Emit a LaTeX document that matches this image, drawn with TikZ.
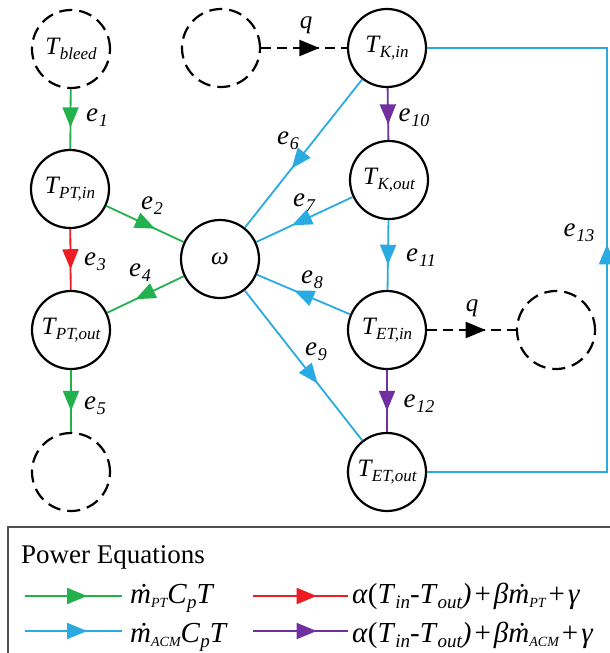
\documentclass[tikz,border=0pt]{standalone}
\usepackage{fontspec}
\setmainfont{Liberation Serif}
\usetikzlibrary{arrows.meta,decorations.markings}
\definecolor{cgreen}{HTML}{22B14C}
\definecolor{cblue}{HTML}{29AAE1}
\definecolor{cred}{HTML}{ED1C24}
\definecolor{cpurple}{HTML}{7030A0}
\definecolor{cbox}{HTML}{505050}
\newcommand\Tsub[1]{\textit{T}\kern-1pt\raisebox{-5pt}{\fontsize{17}{17}\selectfont\itshape #1}}
\newcommand\elab[1]{{\fontsize{27}{30}\selectfont\textit{e}}\kern1pt\raisebox{-5pt}{\fontsize{18}{18}\selectfont\itshape #1}}
\newcommand\lsub[1]{\raisebox{-5pt}{\fontsize{19}{19}\selectfont\itshape #1}}
\newcommand\ssub[1]{\raisebox{-4pt}{\fontsize{14}{14}\selectfont\itshape #1}}
\newcommand\mdot{{\itshape\ooalign{m\cr\hidewidth\kern3pt\char"02D9\hidewidth\cr}}}
\newcommand\pl{\kern3pt+\kern3pt}
\begin{document}
\begin{tikzpicture}[x=1pt,y=-1pt,
  font=\fontsize{25}{28}\selectfont,
  nd/.style={circle,draw,line width=2.2pt,minimum size=78pt,inner sep=0pt},
  dnd/.style={nd,dash pattern=on 13pt off 7pt},
  ed/.style={line width=1.8pt},
  dd/.style={line width=2pt,dash pattern=on 10pt off 6pt},
  midarr/.style={postaction={decorate},decoration={markings,mark=at position #1 with {\arrow{Triangle[length=20pt,width=16pt]}}}},
  lab/.style={inner sep=0pt},
  legt/.style={inner sep=0pt,anchor=base west,font=\fontsize{29}{32}\selectfont},
]
\useasboundingbox (0,0) rectangle (610,653);
\begin{scope}
\clip (0,0) rectangle (610,653);
% nodes
\node[dnd] (bleed) at (71,49) {\Tsub{bleed}};
\node[nd] (ptin) at (70,189) {\Tsub{PT,in}};
\node[nd] (ptout) at (71,330) {\Tsub{PT,out}};
\node[dnd] (dbot) at (71,472) {};
\node[dnd] (dtop) at (221,48) {};
\node[nd] (kin) at (387,48) {\Tsub{K,in}};
\node[nd] (om) at (220,259) {\textit{ω}};
\node[nd] (kout) at (389,180) {\Tsub{K,out}};
\node[nd] (etin) at (387,330) {\Tsub{ET,in}};
\node[nd] (etout) at (387,472) {\Tsub{ET,out}};
\node[dnd] (dright) at (556,330) {};
% edges
\draw[ed,cgreen,midarr=0.64] (bleed) -- (ptin);
\draw[ed,cgreen,midarr=0.63] (ptin) -- (om);
\draw[ed,cred,midarr=0.66] (ptin) -- (ptout);
\draw[ed,cgreen,midarr=0.63] (om) -- (ptout);
\draw[ed,cgreen,midarr=0.66] (ptout) -- (dbot);
\draw[dd,black,midarr=0.68] (dtop) -- (kin);
\draw[ed,cpurple,midarr=0.7] (kin) -- (kout);
\draw[ed,cblue,midarr=0.6] (kin) -- (om);
\draw[ed,cblue,midarr=0.63] (kout) -- (om);
\draw[ed,cblue,midarr=0.64] (kout) -- (etin);
\draw[ed,cblue,midarr=0.6] (etin) -- (om);
\draw[ed,cblue,midarr=0.62] (om) -- (etout);
\draw[dd,black,midarr=0.66] (etin) -- (dright);
\draw[ed,cpurple,midarr=0.66] (etin) -- (etout);
\coordinate (corner) at (607,472);
\draw[ed,cblue,midarr=0.52] (etout.east) -- (corner) |- (kin.east);
% labels
\node[lab] (l1) at (97,118) {\elab{1}};
\node[lab] (l2) at (152,206) {\elab{2}};
\node[lab] (l3) at (95,262) {\elab{3}};
\node[lab] (l4) at (140,273) {\elab{4}};
\node[lab] (l5) at (95,406) {\elab{5}};
\node[lab] (l6) at (288,141) {\elab{6}};
\node[lab] (l7) at (304,203) {\elab{7}};
\node[lab] (l8) at (312,280) {\elab{8}};
\node[lab] (l9) at (316,352) {\elab{9}};
\node[lab] (l10) at (414,118) {\elab{10}};
\node[lab] (l11) at (421,258) {\elab{11}};
\node[lab] (l12) at (419,404) {\elab{12}};
\node[lab] (l13) at (579,233) {\elab{13}};
\node[lab] (q1) at (306,25) {\textit{q}};
\node[lab] (q2) at (472,308) {\textit{q}};
% legend
\draw[cbox,line width=1.5pt] (8,527) rectangle (640,680);
\node[inner sep=0pt,anchor=base west,font=\fontsize{27}{30}\selectfont] (title) at (21,563) {Power Equations};
\coordinate (ga) at (25,596); \coordinate (gb) at (122,596);
\coordinate (ra) at (253,596); \coordinate (rb) at (348,596);
\coordinate (ba) at (25,631); \coordinate (bb) at (122,631);
\coordinate (pa) at (253,631); \coordinate (pb) at (348,631);
\draw[ed,cgreen,midarr=0.64] (ga) -- (gb);
\draw[ed,cred,midarr=0.67] (ra) -- (rb);
\draw[ed,cblue,midarr=0.64] (ba) -- (bb);
\draw[ed,cpurple,midarr=0.67] (pa) -- (pb);
\node[legt] (t1) at (130,603) {\mdot\ssub{PT}\textit{C}\lsub{p}\textit{T}};
\node[legt] (t2) at (130,642) {\mdot\ssub{ACM}\textit{C}\lsub{p}\textit{T}};
\node[legt] (t3) at (352,603) {\textit{α}(\textit{T}\lsub{in}-\textit{T}\lsub{out}\textit{)}\pl\textit{β}\mdot\ssub{PT}\pl\textit{γ}};
\node[legt] (t4) at (352,642) {\textit{α}(\textit{T}\lsub{in}-\textit{T}\lsub{out}\textit{)}\pl\textit{β}\mdot\ssub{ACM}\pl\textit{γ}};
\end{scope}
\end{tikzpicture}
\end{document}
